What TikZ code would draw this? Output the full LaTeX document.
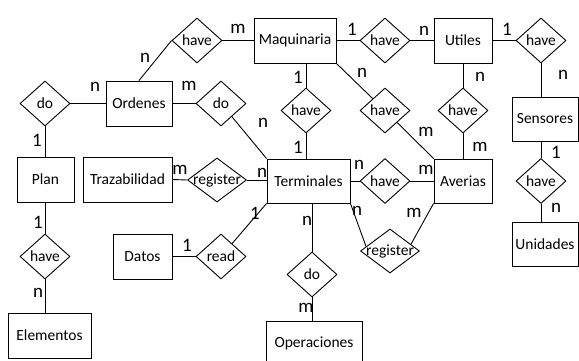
\documentclass[tikz,border=0pt]{standalone}
\usepackage{fontspec}
\setmainfont{Carlito}
\usetikzlibrary{shapes.geometric,calc}
\tikzset{
  ent/.style={draw, line width=0.9pt, fill=white, inner sep=0pt, minimum height=45pt, font=\fontsize{15.5}{16}\selectfont},
  rel/.style={draw, line width=0.9pt, shape=diamond, inner sep=0pt, minimum width=50pt, minimum height=45pt, label={[font=\fontsize{15.5}{16}\selectfont, inner sep=0pt]center:#1}},
  relw/.style={rel=#1, minimum width=59pt, minimum height=44pt},
  card/.style={inner sep=0pt, font=\fontsize{19}{19}\selectfont},
  con/.style={line width=0.9pt}
}
\begin{document}
\begin{tikzpicture}[x=1pt,y=-1pt]
\useasboundingbox (0,0) rectangle (579,361);
% entities
\node[ent, minimum width=82pt] (maq) at (295,40.5) {Maquinaria};
\node[ent, minimum width=58pt] (util) at (463,40.5) {Utiles};
\node[ent, minimum width=66pt, minimum height=44pt] (sens) at (545,119) {Sensores};
\node[ent, minimum width=66pt, minimum height=44pt] (unid) at (545,244) {Unidades};
\node[ent, minimum width=66pt] (ord) at (139,103.5) {Ordenes};
\node[ent, minimum width=57pt] (plan) at (45.5,179.5) {Plan};
\node[ent, minimum width=89pt] (traz) at (127.5,179.5) {Trazabilidad};
\node[ent, minimum width=83pt, minimum height=44pt] (term) at (308.5,181) {Terminales};
\node[ent, minimum width=58pt, minimum height=44pt] (aver) at (463,181) {Averias};
\node[ent, minimum width=59pt] (datos) at (142.5,256.5) {Datos};
\node[ent, minimum width=83pt] (elem) at (49.5,335.5) {Elementos};
\node[ent, minimum width=96pt] (oper) at (314,343.5) {Operaciones};
% relationships
\node[rel=have] (rom) at (197,40.5) {};
\node[rel=have] (rmu) at (385,40.5) {};
\node[rel=have] (rus) at (541,40.5) {};
\node[rel=have] (rmt) at (306,110.5) {};
\node[rel=have] (rma) at (385,110.5) {};
\node[rel=have] (rua) at (463,110.5) {};
\node[rel=do] (rpo) at (45,103.5) {};
\node[rel=do] (rot) at (221,103.5) {};
\node[relw=register] (rtt) at (217,180) {};
\node[rel=have] (rta) at (385,181) {};
\node[relw=register] (rtb) at (390,251) {};
\node[rel=read] (rdt) at (221,256.5) {};
\node[rel=have] (rpe) at (45,256.5) {};
\node[rel=do] (rto) at (312,274.5) {};
\node[rel=have] (rsu) at (541,181) {};
% connectors
\draw[con] (ord.north) -- (rom.west);
\draw[con] (rom.east) -- (maq.west);
\draw[con] (maq.east) -- (rmu.west);
\draw[con] (rmu.east) -- (util.west);
\draw[con] (util.east) -- (rus.west);
\draw[con] (rus.south) -- (rus.south |- sens.north);
\draw[con] (rsu.north |- sens.south) -- (rsu.north);
\draw[con] (rsu.south) -- (rsu.south |- unid.north);
\draw[con] (rmt.north |- maq.south) -- (rmt.north);
\draw[con] (rmt.south) -- (rmt.south |- term.north);
\draw[con] (maq.south east) -- (rma);
\draw[con] (rma) -- (aver.north west);
\draw[con] (util.south) -- (rua.north);
\draw[con] (rua.south) -- (aver.north);
\draw[con] (rpo.east) -- (ord.west);
\draw[con] (rpo.south) -- (rpo.south |- plan.north);
\draw[con] (ord.east) -- (rot.west);
\draw[con] (rot) -- (term.north west);
\draw[con] (traz.east) -- (rtt.west);
\draw[con] (rtt.east) -- (rtt.east -| term.west);
\draw[con] (term.east) -- (rta.west);
\draw[con] (rta.east) -- (aver.west);
\draw[con] (term.south east) -- ($(rtb.west)!0.2!(rtb.north)$);
\draw[con] (aver.south west) -- ($(rtb.east)!0.3!(rtb.north)$);
\draw[con] (datos.east) -- (rdt.west);
\draw[con] (rdt) -- (term.south west);
\draw[con] (rto.north |- term.south) -- (rto.north);
\draw[con] (rto.south) -- (rto.south |- oper.north);
\draw[con] (plan.south -| rpe.north) -- (rpe.north);
\draw[con] (rpe.south) -- (rpe.south |- elem.north);
% cardinalities
\node[card] (c1) at (238,29) {m};
\node[card] (c2) at (145,58) {n};
\node[card] (c3) at (95,87) {n};
\node[card] (c4) at (189,86) {m};
\node[card] (c5) at (263,123) {n};
\node[card] (c6) at (37,140) {1};
\node[card] (c7) at (180,170) {m};
\node[card] (c8) at (262,173) {n};
\node[card] (c9) at (352,29) {1};
\node[card] (c10) at (424,31) {n};
\node[card] (c11) at (507,29) {1};
\node[card] (c12) at (298,77) {1};
\node[card] (c13) at (362,73) {n};
\node[card] (c14) at (480,77) {n};
\node[card] (c15) at (563,75) {n};
\node[card] (c16) at (298,147) {1};
\node[card] (c17) at (426,132) {m};
\node[card] (c18) at (480,147) {m};
\node[card] (c19) at (556,152) {1};
\node[card] (c20) at (359,165) {n};
\node[card] (c21) at (426,170) {m};
\node[card] (c22) at (38,222) {1};
\node[card] (c23) at (38,293) {n};
\node[card] (c24) at (187,245) {1};
\node[card] (c25) at (255,213) {1};
\node[card] (c26) at (357,211) {n};
\node[card] (c27) at (414,213) {m};
\node[card] (c28) at (307,221) {n};
\node[card] (c29) at (306,308) {m};
\node[card] (c30) at (556,208) {n};
\end{tikzpicture}
\end{document}
